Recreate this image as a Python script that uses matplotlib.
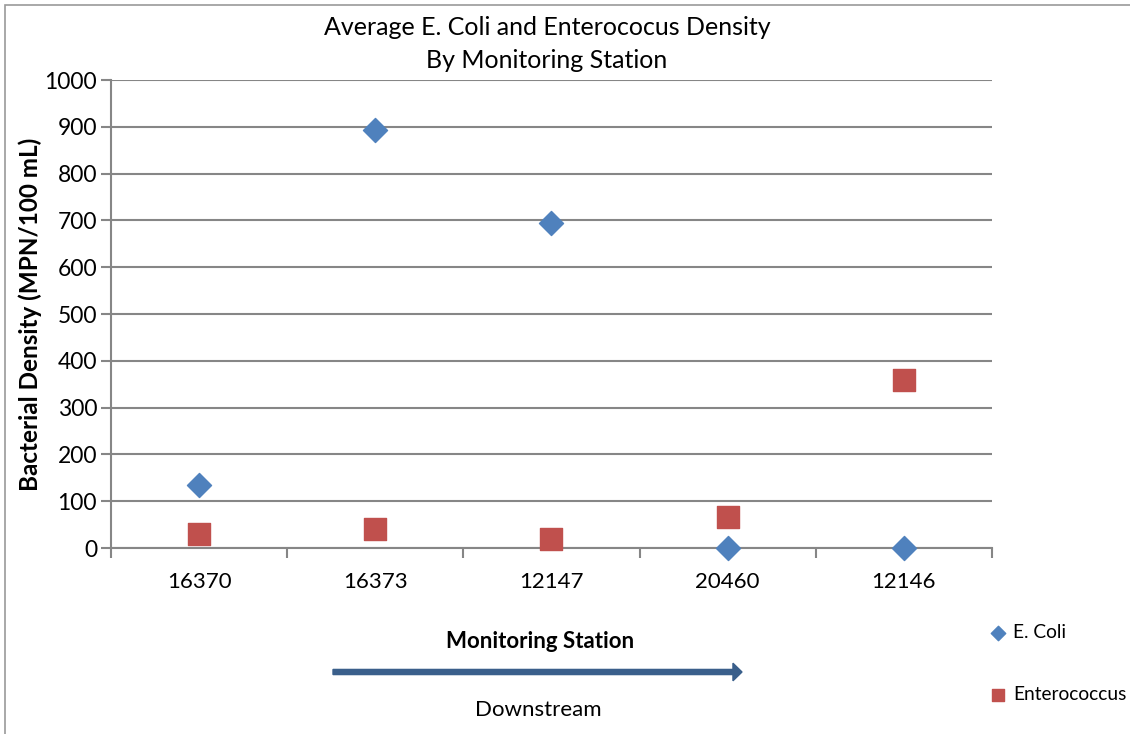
import matplotlib.pyplot as plt
from matplotlib.patches import Rectangle, FancyArrow

plt.rcParams['font.family'] = ['Lato', 'DejaVu Sans']

stations = ['16370', '16373', '12147', '20460', '12146']
ecoli = [135, 893, 695, 1, 1]
enterococcus = [29, 41, 20, 66, 359]

blue = '#4F81BD'
red = '#C0504D'
grid_grey = '#868686'

fig = plt.figure(figsize=(11.3, 7.34), dpi=100)
ax = fig.add_axes([0.0982, 0.2534, 0.7797, 0.6376])

x = list(range(1, len(stations) + 1))
ax.scatter(x, ecoli, marker='D', s=150, color=blue, zorder=3, clip_on=False, label='E. Coli')
ax.scatter(x, enterococcus, marker='s', s=230, color=red, zorder=3, clip_on=False, label='Enterococcus')

ax.set_xlim(0.5, len(stations) + 0.5)
ax.set_ylim(0, 1000)
ax.set_yticks(range(0, 1001, 100))
ax.tick_params(axis='y', labelsize=16.5, length=7, color=grid_grey, width=1.5, pad=3)

# category boundaries get the tick marks, labels sit in between
ax.set_xticks([i + 0.5 for i in range(0, len(stations) + 1)])
ax.set_xticklabels([])
ax.set_xticks(x, minor=True)
ax.set_xticklabels(stations, minor=True)
ax.tick_params(axis='x', which='major', length=7, color=grid_grey, width=1.5)
ax.tick_params(axis='x', which='minor', length=0, labelsize=16, pad=17)

ax.grid(axis='y', color=grid_grey, linewidth=1.5)
ax.set_axisbelow(True)
for side in ['top', 'right']:
    ax.spines[side].set_visible(False)
for side in ['left', 'bottom']:
    ax.spines[side].set_color(grid_grey)
    ax.spines[side].set_linewidth(1.5)

ax.set_ylabel('Bacterial Density (MPN/100 mL)', fontsize=17.5, fontweight='bold', labelpad=2)

fig.text(0.484, 0.962, 'Average E. Coli and Enterococus Density', ha='center', va='center', fontsize=18)
fig.text(0.484, 0.917, 'By Monitoring Station', ha='center', va='center', fontsize=18)

fig.text(0.478, 0.126, 'Monitoring Station', ha='center', va='center', fontsize=16, fontweight='bold')
fig.text(0.476, 0.033, 'Downstream', ha='center', va='center', fontsize=16)
fig.patches.append(FancyArrow(333 / 1130, 1 - 672 / 734, 409 / 1130, 0,
                              width=0.007, head_width=0.024, head_length=0.008,
                              length_includes_head=True, color='#3A5F8B',
                              transform=fig.transFigure, figure=fig))

leg = fig.legend(loc='center left', bbox_to_anchor=(0.876, 0.0954), frameon=False,
                 fontsize=13.8, labelspacing=2.35, handletextpad=0.4, handlelength=0.8,
                 borderpad=0, borderaxespad=0,
                 scatterpoints=1, markerscale=0.6)

fig.patches.append(Rectangle((5 / 1130, -0.1), 1.2, 1 - 5 / 734 + 0.1,
                             transform=fig.transFigure, fill=False,
                             edgecolor='#9a9a9a', linewidth=1.2, figure=fig))

fig.savefig('out.png', dpi=100)
